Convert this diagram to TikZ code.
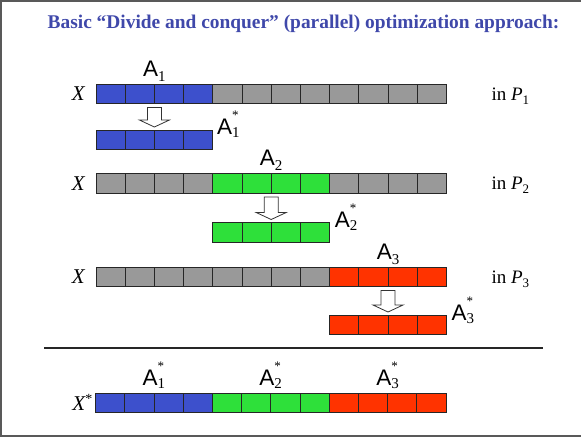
\documentclass[tikz,border=0pt]{standalone}
\usepackage{fontspec}
\setmainfont{Liberation Serif}
\setsansfont{Liberation Sans}
\usetikzlibrary{calc}
\definecolor{Title}{HTML}{3F48AA}
\definecolor{Blu}{HTML}{3D50CC}
\definecolor{Grn}{HTML}{2EE03A}
\definecolor{Rd}{HTML}{FF3300}
\definecolor{Gry}{HTML}{999999}
\newcommand{\Asub}[1]{A\raisebox{-5pt}{\rmfamily\fontsize{15}{15}\selectfont #1}}
\newcommand{\Astar}[1]{A\rlap{\raisebox{14.5pt}{\rmfamily\fontsize{13}{13}\selectfont *}}\raisebox{-3.5pt}{\rmfamily\fontsize{15}{15}\selectfont #1}}

\begin{document}
\begin{tikzpicture}[x=1pt,y=-1pt,
    cell/.style={draw=black!85,line width=0.7pt,fill=Gry,minimum width=29.2pt,minimum height=19.4pt,inner sep=0pt,outer sep=0pt,anchor=north west},
    hollow/.style={draw=black!80,fill=white,line width=0.8pt},
    lab/.style={font=\sffamily\fontsize{22.5}{22.5}\selectfont,anchor=base,inner sep=0pt},
    var/.style={font=\itshape\fontsize{21}{21}\selectfont,anchor=base east,inner sep=0pt},
    proc/.style={font=\fontsize{19}{19}\selectfont,anchor=base west,inner sep=0pt},
    frame/.style={draw=black!65,line width=2pt},
    sep/.style={draw=black!85,line width=1.6pt}
]
\useasboundingbox (0,0) rectangle (581,437);
% frame and title
\draw[frame] (0,1) -- (581,1);
\draw[frame] (1,0) -- (1,437);
\draw[frame] (0,435.5) -- (581,435.5);
\node[font=\bfseries\fontsize{19.4}{20}\selectfont,text=Title,anchor=base] (title) at (303.5,28.5) {Basic “Divide and conquer” (parallel) optimization approach:};

% the three partial problems
\foreach \c [count=\i from 0] in {Blu,Blu,Blu,Blu,Gry,Gry,Gry,Gry,Gry,Gry,Gry,Gry}
  \node[cell,fill=\c] (x1-\i) at ({96+29.2*\i},84) {};
\foreach \c [count=\i from 0] in {Gry,Gry,Gry,Gry,Grn,Grn,Grn,Grn,Gry,Gry,Gry,Gry}
  \node[cell,fill=\c] (x2-\i) at ({96+29.2*\i},173.5) {};
\foreach \c [count=\i from 0] in {Gry,Gry,Gry,Gry,Gry,Gry,Gry,Gry,Rd,Rd,Rd,Rd}
  \node[cell,fill=\c] (x3-\i) at ({96+29.2*\i},267) {};

\foreach \i in {0,...,3}
  \node[cell,fill=Blu] (s1-\i) at ({96+29.2*\i},130) {};
\foreach \i in {4,...,7}
  \node[cell,fill=Grn] (s2-\i) at ({96+29.2*\i},222.5) {};
\foreach \i in {8,...,11}
  \node[cell,fill=Rd] (s3-\i) at ({96+29.2*\i},315) {};

% hollow arrows
\foreach \r/\k in {1/1,2/5,3/9}
  \draw[hollow] ($(s\r-\k.north east)+(0,-3)$) coordinate (t\r)
    -- ($(t\r)+(15,-7)$) -- ($(t\r)+(7,-7)$) -- ($(x\r-\k.south east)+(7,4)$)
    -- ($(x\r-\k.south east)+(-7,4)$) -- ($(t\r)+(-7,-7)$) -- ($(t\r)+(-15,-7)$) -- cycle;

\node[var] (v1) at ($(x1-0.south west)+(-11,-2.5)$) {X};
\node[var] (v2) at ($(x2-0.south west)+(-11,-2.5)$) {X};
\node[var] (v3) at ($(x3-0.south west)+(-11,-2.5)$) {X};

\node[lab] (a1) at ($(x1-1.north east)+(0,-8)$) {\Asub{1}};
\node[lab] (a2) at ($(x2-5.north east)+(0,-8)$) {\Asub{2}};
\node[lab] (a3) at ($(x3-9.north east)+(0,-8)$) {\Asub{3}};

\node[lab,anchor=base west] (a1s) at ($(s1-3.north east)+(4,4)$) {\Astar{1}};
\node[lab,anchor=base west] (a2s) at ($(s2-7.north east)+(5,4.5)$) {\Astar{2}};
\node[lab,anchor=base west] (a3s) at ($(s3-11.north east)+(5,5)$) {\Astar{3}};

\node[proc] (p1) at ($(x1-11.south east)+(45,-3)$) {in \textit{P}\raisebox{-4pt}{\fontsize{13}{13}\selectfont 1}};
\node[proc] (p2) at ($(x2-11.south east)+(45,-3)$) {in \textit{P}\raisebox{-4pt}{\fontsize{13}{13}\selectfont 2}};
\node[proc] (p3) at ($(x3-11.south east)+(45,-3)$) {in \textit{P}\raisebox{-4pt}{\fontsize{13}{13}\selectfont 3}};

% separator and the assembled solution
\draw[sep] (44,348) -- (543,348);

\foreach \c [count=\i from 0] in {Blu,Blu,Blu,Blu,Grn,Grn,Grn,Grn,Rd,Rd,Rd,Rd}
  \node[cell,fill=\c] (y-\i) at ({95.5+29.2*\i},393.3) {};
\node[var] (v4) at ($(y-0.south west)+(-3,-2.7)$) {X\raisebox{7pt}{\upshape\fontsize{14}{14}\selectfont *}};
\node[lab] (b1) at ($(y-1.north east)+(0,-8)$) {\Astar{1}};
\node[lab] (b2) at ($(y-5.north east)+(0,-8)$) {\Astar{2}};
\node[lab] (b3) at ($(y-9.north east)+(0,-8)$) {\Astar{3}};
\end{tikzpicture}
\end{document}
